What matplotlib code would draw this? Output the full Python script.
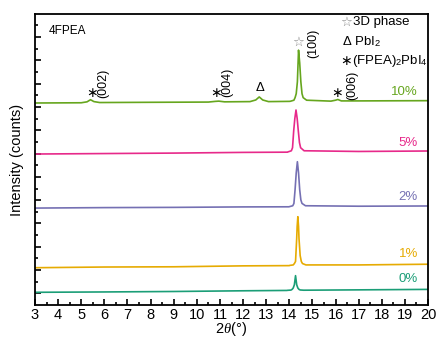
import matplotlib
matplotlib.use('Agg')
import matplotlib.pyplot as plt
from matplotlib.ticker import MultipleLocator, NullFormatter
import numpy as np

plt.rcParams['font.family'] = ['Liberation Sans', 'DejaVu Sans']
plt.rcParams['mathtext.fontset'] = 'custom'
plt.rcParams['mathtext.rm'] = 'Liberation Sans'
plt.rcParams['mathtext.it'] = 'Liberation Serif:italic'

# XRD patterns (2theta in degrees, stacked intensity in a.u.)
x_0 = [3, 6, 9, 12, 13.9, 13.92, 14.07, 14.12, 14.17, 14.22, 14.27, 14.32, 14.37, 14.42, 14.47, 14.62, 17, 20]
y_0 = [0.545, 0.56, 0.58, 0.61, 0.625, 0.63, 0.64, 0.67, 0.73, 0.87, 1.26, 0.87, 0.73, 0.67, 0.645, 0.635, 0.65, 0.67]

x_1 = [3, 6, 9, 12, 14.0, 14.02, 14.17, 14.22, 14.27, 14.32, 14.34, 14.37, 14.40, 14.42, 14.47, 14.52, 14.57, 14.72, 17, 20]
y_1 = [1.60, 1.63, 1.64, 1.68, 1.69, 1.70, 1.72, 1.78, 1.87, 2.85, 3.37, 3.79, 3.37, 2.85, 2.12, 1.87, 1.78, 1.72, 1.72, 1.75]

x_2 = [3, 6, 9, 12, 13.98, 14.0, 14.15, 14.2, 14.25, 14.3, 14.35, 14.4, 14.45, 14.5, 14.55, 14.7, 17, 20]
y_2 = [4.16, 4.18, 4.19, 4.21, 4.215, 4.22, 4.26, 4.36, 4.95, 5.67, 6.15, 5.67, 4.95, 4.51, 4.36, 4.26, 4.24, 4.25]

x_5 = [3, 6, 9, 12, 13.92, 13.94, 14.09, 14.14, 14.19, 14.24, 14.29, 14.34, 14.39, 14.44, 14.49, 14.64, 17, 20]
y_5 = [6.48, 6.50, 6.52, 6.55, 6.56, 6.57, 6.62, 6.75, 7.47, 8.01, 8.37, 8.01, 7.47, 6.97, 6.75, 6.62, 6.59, 6.61]

x_10 = [3, 5.0, 5.25, 5.4, 5.55, 5.8, 8, 10.5, 10.8, 10.95, 11.2, 12.3, 12.55, 12.7, 12.85, 13.1,
        14.0, 14.05, 14.2, 14.25, 14.3, 14.35, 14.4, 14.45, 14.5, 14.55, 14.6, 14.75,
        15.8, 16.0, 16.1, 16.25, 17, 20]
y_10 = [8.67, 8.68, 8.72, 8.81, 8.73, 8.69, 8.70, 8.71, 8.74, 8.75, 8.72, 8.73, 8.80, 8.93, 8.80, 8.73,
        8.74, 8.745, 8.79, 8.90, 9.07, 9.58, 10.94, 10.39, 9.58, 9.07, 8.90, 8.79,
        8.75, 8.79, 8.82, 8.76, 8.76, 8.77]

series = [(x_0, y_0), (x_1, y_1), (x_2, y_2), (x_5, y_5), (x_10, y_10)]
labels = ['0%', '1%', '2%', '5%', '10%']
colors = ['#1b9e77', '#e6ab02', '#7570b3', '#e7298a', '#66a61e']
label_y = [1.12, 2.19, 4.64, 6.95, 9.14]

fig = plt.figure(figsize=(4.36, 3.38), dpi=100)
ax = fig.add_axes([35/436, 33/338, 393/436, 291/338])

for (xs, ys), lab, c, ly in zip(series, labels, colors, label_y):
    ax.plot(xs, ys, color=c, lw=1.2)
    ax.text(19.57, ly, lab, color=c, fontsize=9.5, ha='right', va='center')

ax.set_xlim(3, 20)
ax.set_ylim(0, 12.49)

ax.xaxis.set_major_locator(MultipleLocator(1))
ax.xaxis.set_minor_locator(MultipleLocator(0.5))
ax.set_yticks(np.arange(0.5, 12.49, 1))
ax.set_yticks(np.arange(1, 12.49, 1), minor=True)
ax.yaxis.set_major_formatter(NullFormatter())
ax.tick_params(which='both', direction='in', top=False, right=False, labelsize=10.5, pad=2)
ax.tick_params(which='major', length=4, width=1.2)
ax.tick_params(which='minor', length=2, width=1.2)
for sp in ax.spines.values():
    sp.set_linewidth(1.3)

ax.set_xlabel(r'2$\theta$(°)', fontsize=10.5, labelpad=-1)
ax.set_ylabel('Intensity (counts)', fontsize=10.5, labelpad=6)

# sample name and peak markers
ax.text(3.6, 11.76, '4FPEA', fontsize=8.5, va='center')
for px, py in [(5.47, 9.1), (10.83, 9.1), (16.06, 9.1)]:
    ax.text(px, py, '∗', fontsize=10, ha='center', va='center', family='DejaVu Sans')
for px, py, s in [(5.94, 9.53, '(002)'), (11.30, 9.57, '(004)'), (15.02, 11.24, '(100)'), (16.71, 9.44, '(006)')]:
    ax.text(px, py, s, fontsize=9, rotation=90, ha='center', va='center')
ax.text(12.73, 9.31, 'Δ', fontsize=9.5, ha='center', va='center')
ax.text(14.38, 11.29, '☆', fontsize=9.5, ha='center', va='center', color='#888888', family='DejaVu Sans')

# marker key
ax.text(16.22, 12.15, '☆', fontsize=9.5, va='center', color='#888888', family='DejaVu Sans')
ax.text(16.76, 12.15, '3D phase', fontsize=9.5, va='center')
ax.text(16.28, 11.29, r'Δ PbI$_2$', fontsize=9.5, va='center')
ax.text(16.22, 10.47, '∗', fontsize=10, va='center', family='DejaVu Sans')
ax.text(16.72, 10.47, r'(FPEA)$_2$PbI$_4$', fontsize=9.5, va='center')

fig.savefig('out.png', dpi=100)
